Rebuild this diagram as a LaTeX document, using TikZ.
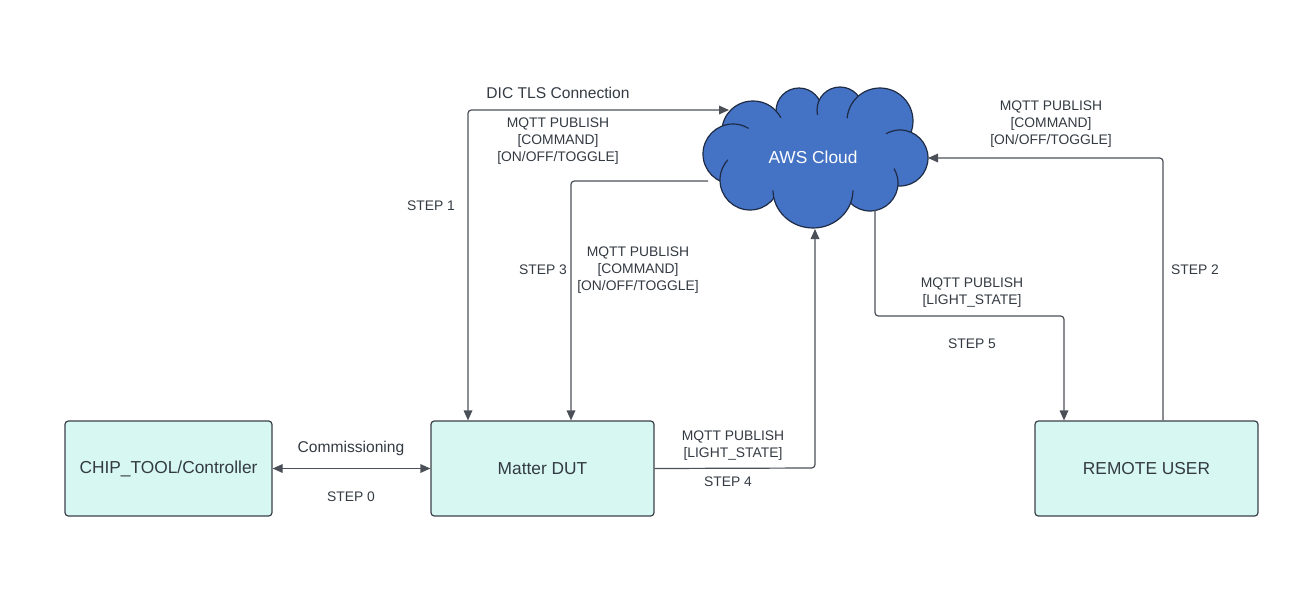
\documentclass[tikz,border=0pt]{standalone}
\usepackage{fontspec}
\setmainfont{Liberation Sans}
\usetikzlibrary{arrows.meta}
\definecolor{boxfill}{HTML}{D7F8F2}
\definecolor{boxline}{HTML}{3A414A}
\definecolor{conn}{HTML}{4B5058}
\definecolor{txt}{HTML}{333A42}
\definecolor{cloudfill}{HTML}{4472C4}
\definecolor{cloudline}{HTML}{1E2B45}
\tikzset{
  blk/.style={draw=boxline, fill=boxfill, line width=0.9pt, rounded corners=2.5pt,
    minimum width=#1, minimum height=71.25pt, inner sep=0pt,
    font=\fontsize{13}{15}\selectfont, text=txt},
  conn/.style={draw=conn, line width=0.9pt, rounded corners=2.5pt,
    -{Triangle[length=7.5pt,width=6.5pt]}},
  biconn/.style={conn, {Triangle[length=7.5pt,width=6.5pt]}-{Triangle[length=7.5pt,width=6.5pt]}},
  lbl/.style={font=\fontsize{10.4}{12.75}\selectfont, text=txt, align=center, inner sep=0pt},
  biglbl/.style={font=\fontsize{11.7}{14}\selectfont, text=txt, align=center, inner sep=0pt},
  puff/.style={fill=cloudfill, draw=cloudline, line width=0.9pt},
}
\begin{document}
\begin{tikzpicture}[x=0.75pt, y=-0.75pt]
\useasboundingbox (0,0) rectangle (1307,611);

% boxes
\node[blk=155.25pt] (chip) at (168.5,468.5) {CHIP\_TOOL/Controller};
\node[blk=167.25pt] (dut) at (542.5,468.5) {Matter DUT};
\node[blk=167.25pt] (user) at (1146.5,468.5) {REMOTE USER};

% cloud
\path[puff] (799,111) circle (23);
\path[puff] (840,110) circle (23);
\path[puff] (880,121) circle (33);
\path[puff] (753,131) ellipse (31 and 30);
\path[puff] (900,158) circle (28);
\path[puff] (733,154) circle (30);
\path[puff] (870,183) circle (28);
\path[puff] (750,180) circle (30);
\path[puff] (813,190) ellipse (40 and 38);
\fill[cloudfill] (813,155) ellipse (86 and 40);
\node[font=\fontsize{13}{15}\selectfont, text=white, inner sep=0pt] (cloud) at (813,157) {AWS Cloud};

% anchor coordinates
\coordinate (c1) at (729,110);
\coordinate (c3) at (708,181);
\coordinate (c4) at (815,229);
\coordinate (c5) at (875,210);
\coordinate (c2) at (928,158);

% STEP 0
\draw[biconn] (chip.east) -- (dut.west);
\node[biglbl] (l0a) at (351,448) {Commissioning};
\node[lbl] (l0b) at (351,496.5) {STEP 0};

% STEP 1
\draw[biconn] (dut.north west -| 468,0) -- (468,110) -- (c1);
\node[biglbl] (l1a) at (558,92.5) {DIC TLS Connection};
\node[lbl] (l1b) at (558,141) {MQTT PUBLISH\\{}[COMMAND]\\{}[ON/OFF/TOGGLE]};
\node[lbl] (l1c) at (431,205.5) {STEP 1};

% STEP 3
\draw[conn] (c3) -- (571,181) -- (dut.north west -| 571,0);
\node[lbl] (l3a) at (543,269.5) {STEP 3};
\node[lbl] (l3b) at (638,270) {MQTT PUBLISH\\{}[COMMAND]\\{}[ON/OFF/TOGGLE]};

% STEP 4
\draw[conn] (dut.east) -- (815,468) -- (c4);
\node[lbl] (l4a) at (733,445.5) {MQTT PUBLISH\\{}[LIGHT\_STATE]};
\node[lbl] (l4b) at (728,481.5) {STEP 4};

% STEP 5
\draw[conn] (c5) -- (875,316) -- (1064,316) -- (user.north west -| 1064,0);
\node[lbl] (l5a) at (972,292.5) {MQTT PUBLISH\\{}[LIGHT\_STATE]};
\node[lbl] (l5b) at (972,343.5) {STEP 5};

% STEP 2
\draw[conn] (user.north west -| 1163,0) -- (1163,158) -- (c2);
\node[lbl] (l2a) at (1051,124) {MQTT PUBLISH\\{}[COMMAND]\\{}[ON/OFF/TOGGLE]};
\node[lbl] (l2b) at (1195,269.5) {STEP 2};
\end{tikzpicture}
\end{document}
